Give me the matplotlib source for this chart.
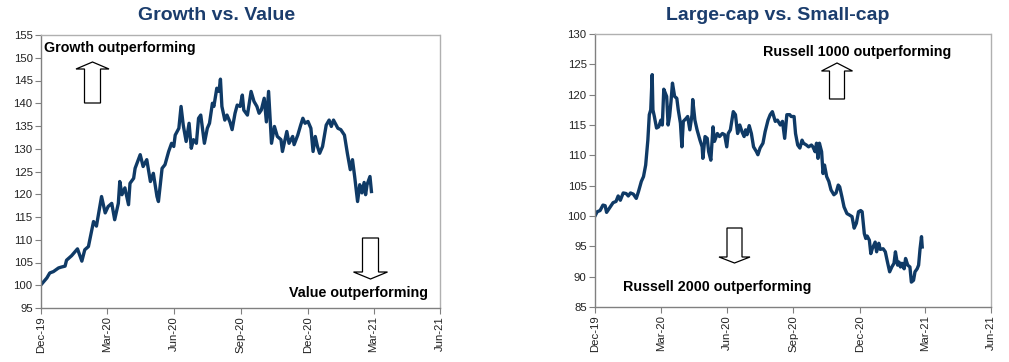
import matplotlib
matplotlib.use("Agg")
import matplotlib.pyplot as plt
from matplotlib.patches import Polygon
import pandas as pd

# ---------------- data ----------------
gv_dates = [
    "2019-12-31", "2020-01-08", "2020-01-12", "2020-01-17", "2020-01-24", "2020-01-28",
    "2020-02-02", "2020-02-04", "2020-02-11", "2020-02-19", "2020-02-25", "2020-02-29",
    "2020-03-05", "2020-03-12", "2020-03-16", "2020-03-23", "2020-03-28", "2020-04-01",
    "2020-04-06", "2020-04-10", "2020-04-15", "2020-04-17", "2020-04-20", "2020-04-24",
    "2020-04-29", "2020-05-01", "2020-05-06", "2020-05-08", "2020-05-15", "2020-05-19",
    "2020-05-24", "2020-05-29", "2020-06-02", "2020-06-07", "2020-06-09", "2020-06-14",
    "2020-06-18", "2020-06-23", "2020-06-27", "2020-06-30", "2020-07-02", "2020-07-07",
    "2020-07-10", "2020-07-13", "2020-07-17", "2020-07-21", "2020-07-24", "2020-07-27",
    "2020-07-31", "2020-08-03", "2020-08-06", "2020-08-11", "2020-08-15", "2020-08-18",
    "2020-08-22", "2020-08-24", "2020-08-28", "2020-08-31", "2020-09-02", "2020-09-04",
    "2020-09-08", "2020-09-11", "2020-09-15", "2020-09-18", "2020-09-22", "2020-09-25",
    "2020-09-29", "2020-10-02", "2020-10-04", "2020-10-09", "2020-10-14", "2020-10-18",
    "2020-10-22", "2020-10-25", "2020-10-28", "2020-11-01", "2020-11-04", "2020-11-07",
    "2020-11-11", "2020-11-15", "2020-11-19", "2020-11-24", "2020-11-26", "2020-12-02",
    "2020-12-05", "2020-12-10", "2020-12-12", "2020-12-17", "2020-12-21", "2020-12-24",
    "2020-12-27", "2020-12-31", "2021-01-04", "2021-01-07", "2021-01-10", "2021-01-13",
    "2021-01-16", "2021-01-20", "2021-01-25", "2021-01-29", "2021-02-01", "2021-02-04",
    "2021-02-10", "2021-02-14", "2021-02-19", "2021-02-23", "2021-02-27", "2021-03-02",
    "2021-03-05", "2021-03-09", "2021-03-12", "2021-03-15", "2021-03-18", "2021-03-20",
    "2021-03-22", "2021-03-26", "2021-03-28",
]
gv_values = [
    100.1, 101.6, 102.7, 103.0, 103.8, 104.0,
    104.2, 105.5, 106.5, 108.0, 105.3, 107.8,
    108.5, 114.0, 113.0, 119.5, 115.9, 117.3,
    118.0, 114.4, 118.0, 122.8, 119.9, 121.4,
    117.7, 122.4, 123.5, 125.7, 128.7, 126.1,
    127.6, 122.8, 124.6, 119.5, 118.4, 125.7,
    126.5, 129.4, 131.2, 130.5, 133.0, 134.5,
    139.3, 135.2, 131.6, 135.6, 130.1, 132.0,
    131.2, 136.7, 137.4, 131.2, 134.5, 135.6,
    140.0, 139.3, 143.3, 142.6, 145.3, 139.3,
    136.3, 137.4, 135.9, 134.2, 137.8, 139.6,
    139.3, 141.8, 138.5, 137.4, 142.6, 140.4,
    139.3, 137.8, 138.5, 141.1, 135.9, 142.6,
    131.2, 134.9, 132.7, 132.0, 129.4, 133.8,
    131.2, 132.7, 130.9, 133.0, 135.2, 136.7,
    135.6, 136.0, 134.5, 129.4, 132.7, 130.5,
    129.0, 130.5, 135.2, 136.3, 134.9, 136.3,
    134.5, 134.2, 133.0, 129.0, 125.4, 127.6,
    123.9, 118.4, 122.1, 120.3, 122.6, 119.9,
    122.1, 123.9, 120.6,
]

ls_dates = [
    "2019-12-31", "2020-01-03", "2020-01-07", "2020-01-11", "2020-01-14", "2020-01-16",
    "2020-01-21", "2020-01-25", "2020-01-29", "2020-02-01", "2020-02-04", "2020-02-08",
    "2020-02-12", "2020-02-15", "2020-02-18", "2020-02-22", "2020-02-26", "2020-02-29",
    "2020-03-04", "2020-03-07", "2020-03-10", "2020-03-13", "2020-03-15", "2020-03-17",
    "2020-03-19", "2020-03-20", "2020-03-22", "2020-03-25", "2020-03-28", "2020-03-31",
    "2020-04-02", "2020-04-04", "2020-04-08", "2020-04-10", "2020-04-12", "2020-04-14",
    "2020-04-16", "2020-04-19", "2020-04-22", "2020-04-24", "2020-04-27", "2020-04-29",
    "2020-05-01", "2020-05-05", "2020-05-07", "2020-05-10", "2020-05-13", "2020-05-14",
    "2020-05-17", "2020-05-20", "2020-05-24", "2020-05-27", "2020-05-28", "2020-05-31",
    "2020-06-03", "2020-06-05", "2020-06-08", "2020-06-11", "2020-06-13", "2020-06-17",
    "2020-06-20", "2020-06-24", "2020-06-27", "2020-06-30", "2020-07-02", "2020-07-05",
    "2020-07-09", "2020-07-12", "2020-07-15", "2020-07-18", "2020-07-21", "2020-07-24",
    "2020-07-26", "2020-07-28", "2020-07-31", "2020-08-03", "2020-08-06", "2020-08-10",
    "2020-08-12", "2020-08-15", "2020-08-19", "2020-08-22", "2020-08-26", "2020-08-29",
    "2020-09-01", "2020-09-05", "2020-09-08", "2020-09-12", "2020-09-15", "2020-09-18",
    "2020-09-21", "2020-09-25", "2020-09-27", "2020-10-01", "2020-10-03", "2020-10-06",
    "2020-10-09", "2020-10-12", "2020-10-14", "2020-10-18", "2020-10-21", "2020-10-25",
    "2020-10-27", "2020-10-30", "2020-11-01", "2020-11-03", "2020-11-05", "2020-11-08",
    "2020-11-10", "2020-11-12", "2020-11-15", "2020-11-18", "2020-11-21", "2020-11-25",
    "2020-11-28", "2020-12-01", "2020-12-03", "2020-12-06", "2020-12-09", "2020-12-13",
    "2020-12-16", "2020-12-20", "2020-12-23", "2020-12-26", "2020-12-29", "2021-01-01",
    "2021-01-03", "2021-01-06", "2021-01-08", "2021-01-10", "2021-01-13", "2021-01-15",
    "2021-01-17", "2021-01-21", "2021-01-23", "2021-01-26", "2021-01-28", "2021-02-01",
    "2021-02-04", "2021-02-07", "2021-02-10", "2021-02-13", "2021-02-16", "2021-02-18",
    "2021-02-21", "2021-02-23", "2021-02-25", "2021-02-27", "2021-03-02", "2021-03-04",
    "2021-03-07", "2021-03-10", "2021-03-12", "2021-03-15", "2021-03-17", "2021-03-20",
    "2021-03-22", "2021-03-24", "2021-03-26", "2021-03-27",
]
ls_values = [
    100.0, 100.7, 100.9, 101.8, 101.7, 100.6,
    101.5, 102.2, 102.4, 103.3, 102.6, 103.8,
    103.7, 103.3, 103.8, 103.6, 102.9, 104.0,
    105.7, 106.5, 108.4, 112.5, 116.7, 117.5,
    123.3, 117.5, 116.4, 114.5, 114.7, 115.8,
    115.0, 120.9, 119.7, 115.0, 116.4, 118.9,
    121.9, 119.7, 119.4, 117.5, 115.3, 111.4,
    115.6, 116.1, 116.4, 114.2, 116.7, 119.2,
    115.8, 114.2, 112.5, 111.4, 109.5, 113.1,
    112.8, 110.6, 109.2, 114.7, 112.3, 113.6,
    113.1, 113.6, 113.4, 111.4, 113.6, 114.2,
    117.2, 116.7, 113.6, 115.0, 113.9, 113.1,
    114.2, 113.4, 114.9, 113.6, 111.4, 110.6,
    110.1, 111.2, 112.0, 113.9, 115.8, 116.7,
    117.2, 115.6, 115.8, 115.0, 115.6, 112.8,
    116.7, 116.7, 116.4, 116.4, 113.6, 111.7,
    111.2, 112.5, 112.0, 111.7, 111.4, 111.7,
    111.4, 110.6, 112.0, 109.5, 112.0, 110.6,
    107.0, 108.4, 106.5, 105.7, 104.3, 103.5,
    103.8, 105.1, 104.8, 103.2, 101.5, 100.4,
    100.2, 99.9, 98.0, 98.8, 100.7, 100.9,
    100.7, 97.1, 96.3, 96.7, 96.0, 93.8,
    94.6, 95.7, 94.1, 95.5, 94.5, 94.6,
    94.1, 92.4, 90.8, 91.6, 92.2, 94.1,
    91.9, 92.4, 91.6, 92.2, 91.3, 93.0,
    91.9, 91.6, 89.1, 89.4, 90.8, 91.3,
    91.9, 94.6, 96.6, 94.9,
]

x_ticks = ["2019-12-31", "2020-03-31", "2020-06-30", "2020-09-30",
           "2020-12-31", "2021-03-31", "2021-06-30"]
x_tick_labels = ["Dec-19", "Mar-20", "Jun-20", "Sep-20", "Dec-20", "Mar-21", "Jun-21"]

titles = ["Growth vs. Value", "Large-cap vs. Small-cap"]
gv_yticks = list(range(95, 156, 5))
ls_yticks = list(range(85, 131, 5))

# ---------------- style ----------------
LINE = "#0f3a66"
TITLE = "#1b3d6d"
FONT = ["Liberation Sans", "DejaVu Sans"]
plt.rcParams["font.family"] = FONT

W, H = 1009, 362
fig = plt.figure(figsize=(W / 100, H / 100), dpi=100)


def px_axes(l, t, r, b):
    return fig.add_axes([l / W, 1 - b / H, (r - l) / W, (b - t) / H])


def block_arrow(cx, y_base, y_tip, shaft_w, head_w, head_len):
    """hollow block arrow, figure-pixel coordinates (y down)."""
    d = 1 if y_tip > y_base else -1
    y_neck = y_tip - d * head_len
    pts = [
        (cx - shaft_w / 2, y_base), (cx + shaft_w / 2, y_base),
        (cx + shaft_w / 2, y_neck), (cx + head_w / 2, y_neck),
        (cx, y_tip), (cx - head_w / 2, y_neck), (cx - shaft_w / 2, y_neck),
    ]
    pts = [(x / W, 1 - y / H) for x, y in pts]
    fig.patches.append(Polygon(pts, closed=True, facecolor="white",
                               edgecolor="black", linewidth=0.9,
                               transform=fig.transFigure, zorder=5))


def style_axes(ax, yticks):
    ax.set_xlim(pd.Timestamp(x_ticks[0]), pd.Timestamp(x_ticks[-1]))
    ax.set_ylim(yticks[0], yticks[-1])
    ax.set_yticks(yticks)
    ax.set_xticks(pd.to_datetime(x_ticks))
    ax.set_xticklabels(x_tick_labels, rotation=90, fontsize=8.2, color="#222222")
    ax.tick_params(axis="y", labelsize=8.2, length=4, width=0.8,
                   color="#808080", labelcolor="#222222", pad=2)
    ax.tick_params(axis="x", length=4, width=0.8, color="#808080", pad=2)
    for s in ("left", "bottom"):
        ax.spines[s].set_color("#808080")
        ax.spines[s].set_linewidth(1.0)
    for s in ("top", "right"):
        ax.spines[s].set_color("#b0b0b0")
        ax.spines[s].set_linewidth(1.0)
        ax.spines[s].set_linestyle((0, (1, 1)))


# left panel
ax1 = px_axes(41, 35, 440, 308)
ax1.plot(pd.to_datetime(gv_dates), gv_values, color=LINE, lw=2.4,
         solid_joinstyle="round")
style_axes(ax1, gv_yticks)
fig.text(216.5 / W, 1 - 15 / H, titles[0], ha="center", va="center",
         fontsize=14, fontweight="bold", color=TITLE)
fig.text(44 / W, 1 - 48 / H, "Growth outperforming", ha="left", va="center",
         fontsize=10.3, fontweight="bold", color="black")
fig.text(428 / W, 1 - 293 / H, "Value outperforming", ha="right", va="center",
         fontsize=10.3, fontweight="bold", color="black")
block_arrow(92.5, 103, 62, 16, 33, 7)
block_arrow(370.5, 238, 279, 16, 34, 7)

# right panel
ax2 = px_axes(595, 34, 991, 307)
ax2.plot(pd.to_datetime(ls_dates), ls_values, color=LINE, lw=2.4,
         solid_joinstyle="round")
style_axes(ax2, ls_yticks)
fig.text(778 / W, 1 - 16 / H, titles[1], ha="center", va="center",
         fontsize=14, fontweight="bold", color=TITLE)
fig.text(763 / W, 1 - 52 / H, "Russell 1000 outperforming", ha="left", va="center",
         fontsize=10.3, fontweight="bold", color="black")
fig.text(623 / W, 1 - 287 / H, "Russell 2000 outperforming", ha="left", va="center",
         fontsize=10.3, fontweight="bold", color="black")
block_arrow(837, 99, 63, 15, 31, 8)
block_arrow(734.5, 228, 263, 15, 31, 6)

fig.savefig("out.png", dpi=100)
